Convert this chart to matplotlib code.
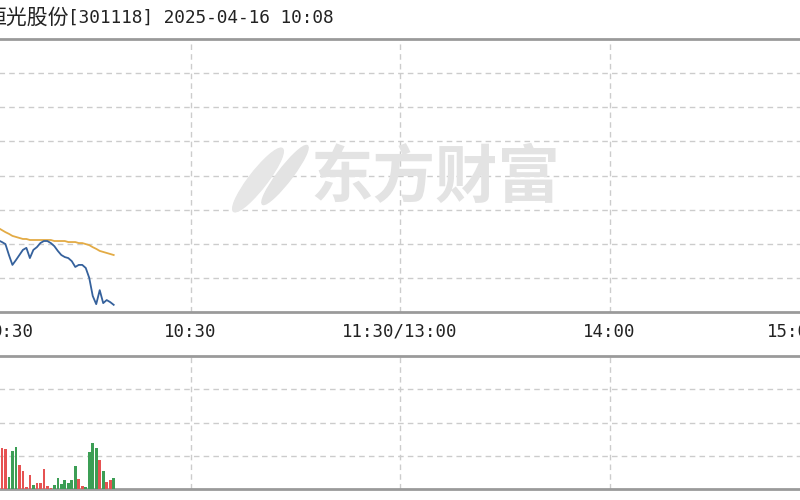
import matplotlib
matplotlib.use("Agg")
import matplotlib.pyplot as plt
from matplotlib.patches import Ellipse

# 分时数据 (9:30 起的分钟序号, 涨跌幅 %, 均价 %, 成交量)
minutes = list(range(0, 39))
price = [-1.60, -1.80, -1.70, -1.90, -1.80, -1.90,
         -1.95, -2.01, -2.33, -2.62, -2.48, -2.33, -2.18, -2.12, -2.42, -2.18,
         -2.10, -1.98, -1.92, -1.92, -1.98, -2.07, -2.21, -2.33, -2.39, -2.42,
         -2.51, -2.68, -2.62, -2.62, -2.71, -3.00, -3.53, -3.77, -3.36, -3.74,
         -3.65, -3.71, -3.79]
avg_price = [-1.16, -1.30, -1.36, -1.42, -1.48, -1.54,
             -1.60, -1.66, -1.71, -1.77, -1.80, -1.83, -1.86, -1.86, -1.89, -1.89,
             -1.89, -1.89, -1.89, -1.89, -1.89, -1.92, -1.92, -1.92, -1.92, -1.95,
             -1.95, -1.95, -1.98, -1.98, -2.01, -2.04, -2.10, -2.15, -2.21, -2.24,
             -2.27, -2.30, -2.33]
volume = [180, 135, 90, 105, 84, 99,
          123, 120, 36, 114, 126, 72, 54, 6, 42, 12,
          18, 18, 60, 9, 3, 12, 33, 15, 27, 18,
          27, 69, 30, 9, 6, 111, 138, 123, 87, 54,
          21, 27, 33]
vol_dir = ["g", "r", "g", "r", "g", "r",
           "r", "r", "g", "g", "g", "r", "r", "r", "r", "g",
           "r", "r", "r", "r", "r", "g", "g", "g", "g", "g",
           "g", "g", "r", "r", "g", "g", "g", "g", "r", "g",
           "r", "r", "g"]

tick_pos = [0, 60, 120, 180, 240]
tick_labels = ["9:30", "10:30", "11:30/13:00", "14:00", "15:00"]
stock_name = "恒光股份"
stock_info = "[301118] 2025-04-16 10:08"

W, H = 800, 500
fig = plt.figure(figsize=(8, 5), dpi=100)

x0, x1 = -19, 819  # 图表左右边缘 (像素), 图片被裁切


def fx(px):
    return px / W


def fy(py):
    return 1 - py / H


grid_kw = dict(color="#cccccc", lw=1, ls=(0, (4, 3)))
border = "#9a9a9a"

# 价格区
ax = fig.add_axes([fx(x0), fy(312), fx(x1 - x0), (312 - 39) / H])
ax.set_xlim(0, 240)
ax.set_ylim(-4, 4)
for v in range(-3, 4):
    ax.axhline(v, **grid_kw, zorder=1)
for t in tick_pos[1:-1]:
    ax.axvline(t, **grid_kw, zorder=1)
ax.plot(minutes, avg_price, color="#e3ab45", lw=1.3, zorder=3)
ax.plot(minutes, price, color="#35619c", lw=1.3, zorder=4)

# 成交量区
axv = fig.add_axes([fx(x0), fy(489), fx(x1 - x0), (489 - 356) / H])
axv.set_xlim(0, 240)
axv.set_ylim(0, 400)
for v in (100, 200, 300):
    axv.axhline(v, **grid_kw, zorder=1)
for t in tick_pos[1:-1]:
    axv.axvline(t, **grid_kw, zorder=1)
colors = ["#e65252" if d == "r" else "#3c9e55" for d in vol_dir]
axv.bar(minutes, volume, width=0.75, color=colors, zorder=3)

for a in (ax, axv):
    a.set_xticks([])
    a.set_yticks([])
    a.set_facecolor("none")
    for s in ("left", "right"):
        a.spines[s].set_visible(False)
    for s in ("top", "bottom"):
        a.spines[s].set_color(border)
        a.spines[s].set_linewidth(2)

# 时间标签
for t, lab in zip(tick_pos, tick_labels):
    px = x0 + (x1 - x0) * t / 240
    ha = "center"
    if t == 0:
        ha = "left"
        px = x0 + 11
    elif t == 240:
        ha = "right"
    fig.text(fx(px), fy(332), lab, ha=ha, va="center", fontsize=12.5,
             family="DejaVu Sans Mono", color="#222222")

# 标题
fig.text(fx(69), fy(18), stock_name, ha="right", va="center", fontsize=15,
         family=["Noto Sans CJK SC", "DejaVu Sans"], color="#222222")
fig.text(fx(68), fy(18), stock_info, ha="left", va="center", fontsize=12.8,
         family="DejaVu Sans Mono", color="#222222")

# 水印
fig.text(fx(435), fy(178), "东方财富", ha="center", va="center", fontsize=45,
         fontweight="bold", family=["Noto Sans CJK SC"], color="#e3e3e3",
         zorder=0)
fig.patches.append(Ellipse((fx(258), fy(180)), 0.025, 0.14, angle=-25,
                           transform=fig.transFigure, color="#e6e6e6",
                           zorder=0))
fig.patches.append(Ellipse((fx(285), fy(175)), 0.02, 0.13, angle=-25,
                           transform=fig.transFigure, color="#e3e3e3",
                           zorder=0))

fig.savefig("out.png", dpi=100, facecolor="white")
